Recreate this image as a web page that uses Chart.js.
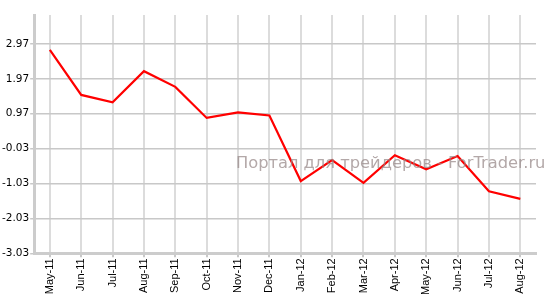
<!DOCTYPE html>
<html>
<head>
<meta charset="utf-8">
<script src="https://cdn.jsdelivr.net/npm/chart.js@4"></script>
<style>
  html, body { margin: 0; padding: 0; background: #fff; }
  #wrap { width: 552px; height: 307px; }
</style>
</head>
<body>
<div id="wrap"><canvas id="myChart" width="552" height="307"></canvas></div>
<script>
const months = ["May-11", "Jun-11", "Jul-11", "Aug-11", "Sep-11", "Oct-11", "Nov-11", "Dec-11",
  "Jan-12", "Feb-12", "Mar-12", "Apr-12", "May-12", "Jun-12", "Jul-12", "Aug-12"];
const values = [2.80, 1.51, 1.30, 2.19, 1.74, 0.85, 1.01, 0.92,
  -0.96, -0.36, -1.01, -0.22, -0.62, -0.24, -1.25, -1.47];
const y_ticks = [-3.03, -2.03, -1.03, -0.03, 0.97, 1.97, 2.97];
const y_min = -3.03;
const y_max = 3.8;
const watermark = "Портал для трейдеров - ForTrader.ru";

const watermark_plugin = {
  id: "watermark",
  afterDatasetsDraw(chart) {
    const ctx = chart.ctx;
    ctx.save();
    ctx.font = "16.3px 'DejaVu Sans'";
    ctx.fillStyle = "rgba(150, 135, 135, 0.72)";
    ctx.textBaseline = "alphabetic";
    ctx.fillText(watermark, 236, 168);
    ctx.restore();
  },
};

const ctx = document.getElementById("myChart").getContext("2d");
const myChart = new Chart(ctx, {
  type: "line",
  data: {
    labels: months,
    datasets: [
      {
        data: values,
        borderColor: "rgb(255, 0, 0)",
        borderWidth: 2.2,
        pointRadius: 0,
        tension: 0,
        fill: false,
      },
    ],
  },
  options: {
    responsive: false,
    maintainAspectRatio: false,
    animation: false,
    layout: { padding: { top: 15, right: 16, left: 1, bottom: 11 } },
    plugins: { legend: { display: false }, tooltip: { enabled: false } },
    scales: {
      x: {
        offset: true,
        grid: {
          offset: false,
          color: "#dcdcdc",
          lineWidth: 2,
          tickLength: 4,
          tickColor: "#c8c8c8",
        },
        border: { color: "#cccccc", width: 3 },
        ticks: {
          autoSkip: false,
          maxRotation: 90,
          minRotation: 90,
          color: "#000",
          font: { family: "'Liberation Sans'", size: 11 },
          padding: 1,
        },
      },
      y: {
        min: y_min,
        max: y_max,
        afterBuildTicks: (axis) => {
          axis.ticks = y_ticks.map((v) => ({ value: v }));
        },
        grid: {
          color: "#c8c8c8",
          lineWidth: 1.5,
          tickLength: 4,
        },
        border: { color: "#cccccc", width: 3 },
        ticks: {
          color: "#000",
          font: { family: "'DejaVu Sans'", size: 10.5 },
          padding: 1,
          callback: (v) => v.toFixed(2),
        },
      },
    },
  },
  plugins: [watermark_plugin],
});
</script>
</body>
</html>
